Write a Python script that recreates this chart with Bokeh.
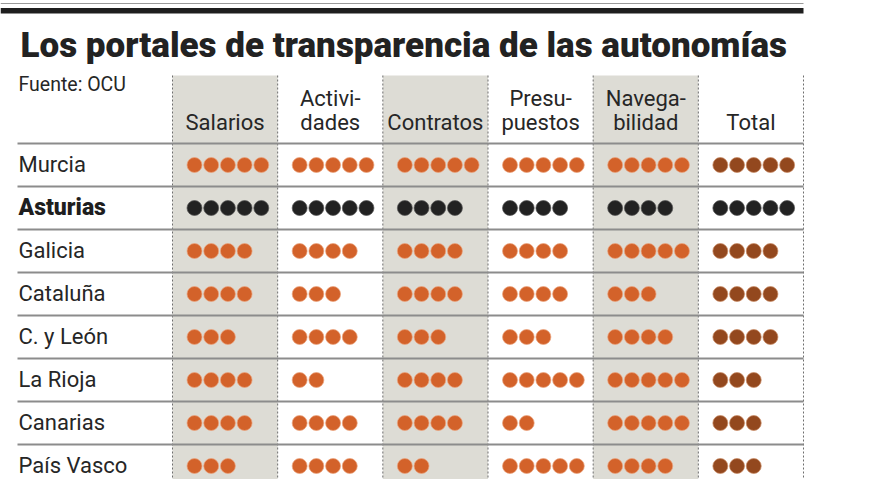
from bokeh.plotting import figure
from bokeh.models import Range1d
from bokeh.embed import file_html
from bokeh.resources import INLINE
from bokeh.core.properties import value

# ---------------- data ----------------
title_text = "Los portales de transparencia de las autonomías"
source_text = "Fuente: OCU"
regions = ["Murcia", "Asturias", "Galicia", "Cataluña", "C. y León",
           "La Rioja", "Canarias", "País Vasco"]
header_line1 = ["", "Activi-", "", "Presu-", "Navega-", ""]
header_line2 = ["Salarios", "dades", "Contratos", "puestos", "bilidad", "Total"]
salarios = [5, 5, 4, 4, 3, 4, 4, 3]
actividades = [5, 5, 4, 3, 4, 2, 4, 4]
contratos = [5, 4, 4, 4, 3, 4, 4, 2]
presupuestos = [5, 4, 4, 4, 3, 5, 2, 5]
navegabilidad = [5, 4, 5, 3, 4, 5, 5, 4]
total = [5, 5, 4, 4, 4, 3, 3, 3]
highlight = "Asturias"

scores = [salarios, actividades, contratos, presupuestos, navegabilidad, total]

# ---------------- layout / style ----------------
FONT = "Roboto"
HEAVY = "Roboto Black, Roboto"
TEXT_COL = "#262626"
ORANGE, ORANGE_RIM = "#d3622a", "#eba27c"
BROWN, BROWN_RIM = "#93481e", "#c98a64"
DARK, DARK_RIM = "#222222", "#555555"
SHADE = "#dddcd5"
RULE = "#8c8c8c"

COL_X0, COL_X1 = 172.0, 803.0
n_cols = len(header_line2)
COL_W = (COL_X1 - COL_X0) / n_cols
HEADER_TOP = 75.0
HEADER_LINE = 143.0
ROW_H = 43.0
DOT_OFF, DOT_STEP, DOT_SIZE = 22.0, 16.7, 15
LINE_X0 = 17.0
SHIFT = 8.0        # compensation for text baseline placement
TITLE_SHIFT = 10.0

W, H = 864, 479
p = figure(width=W, height=H, output_backend="svg", toolbar_location=None,
           x_range=Range1d(0, W), y_range=Range1d(H, 0),
           min_border=0, outline_line_color=None, background_fill_color="white",
           border_fill_color="white")
p.axis.visible = False
p.grid.visible = False

col_left = [COL_X0 + COL_W * i for i in range(n_cols)]
col_center = [c + COL_W / 2 for c in col_left]
row_center = [HEADER_LINE + ROW_H * (j + 0.5) for j in range(len(regions))]

# shaded columns
sh = [i for i in range(n_cols) if i % 2 == 0]
p.quad(left=[col_left[i] for i in sh], right=[col_left[i] + COL_W for i in sh],
       top=[HEADER_TOP] * len(sh), bottom=[H + 5] * len(sh),
       fill_color=SHADE, line_color=None)

# top double rule
p.segment(x0=[0], y0=[3], x1=[COL_X1], y1=[3], line_color="#9a9a9a", line_width=1.2)
p.quad(left=[0], right=[COL_X1], top=[7.5], bottom=[13], fill_color="#1e1e1e", line_color=None)

# dashed vertical separators
bounds = [COL_X0 + COL_W * i for i in range(n_cols + 1)]
p.segment(x0=bounds, y0=[HEADER_TOP] * len(bounds), x1=bounds, y1=[H + 5] * len(bounds),
          line_color="#6e6e6e", line_width=1, line_dash="2 2")

# horizontal rules
hy = [HEADER_LINE + ROW_H * j for j in range(len(regions) + 1)]
p.segment(x0=[LINE_X0] * len(hy), y0=hy, x1=[COL_X1] * len(hy), y1=hy,
          line_color=RULE, line_width=2)

# dots
xs, ys, cs, rs = [], [], [], []
for j, reg in enumerate(regions):
    for i, col in enumerate(scores):
        for k in range(col[j]):
            xs.append(col_left[i] + DOT_OFF + k * DOT_STEP)
            ys.append(row_center[j])
            if reg == highlight:
                cs.append(DARK); rs.append(DARK_RIM)
            elif i == n_cols - 1:
                cs.append(BROWN); rs.append(BROWN_RIM)
            else:
                cs.append(ORANGE); rs.append(ORANGE_RIM)
p.scatter(x=xs, y=ys, size=DOT_SIZE, marker="circle", fill_color=cs,
          line_color=rs, line_width=1, line_alpha=0.7)

# title & source
p.text(x=[20], y=[55 - TITLE_SHIFT], text=[title_text], text_font=value(HEAVY),
       text_font_style="bold", text_font_size="35px", text_color="#222222",
       text_baseline="alphabetic")
p.text(x=[18], y=[92 - SHIFT], text=[source_text], text_font=value(FONT),
       text_font_size="19.5px", text_color=TEXT_COL, text_baseline="alphabetic")

# headers
p.text(x=col_center, y=[106 - SHIFT] * n_cols, text=header_line1, text_font=value(FONT),
       text_font_size="22px", text_color=TEXT_COL, text_align="center",
       text_baseline="alphabetic")
p.text(x=col_center, y=[130 - SHIFT] * n_cols, text=header_line2, text_font=value(FONT),
       text_font_size="22px", text_color=TEXT_COL, text_align="center",
       text_baseline="alphabetic")

# row labels
norm = [(r, y) for r, y in zip(regions, row_center) if r != highlight]
bold = [(r, y) for r, y in zip(regions, row_center) if r == highlight]
p.text(x=[18] * len(norm), y=[y + 7.5 - SHIFT for _, y in norm], text=[r for r, _ in norm],
       text_font=value(FONT), text_font_size="22px", text_color=TEXT_COL,
       text_baseline="alphabetic")
p.text(x=[18] * len(bold), y=[y + 7.5 - SHIFT for _, y in bold], text=[r for r, _ in bold],
       text_font=value(HEAVY), text_font_style="bold", text_font_size="23px",
       text_color="#1e1e1e", text_baseline="alphabetic")

open("out.html", "w").write(file_html(p, INLINE))
